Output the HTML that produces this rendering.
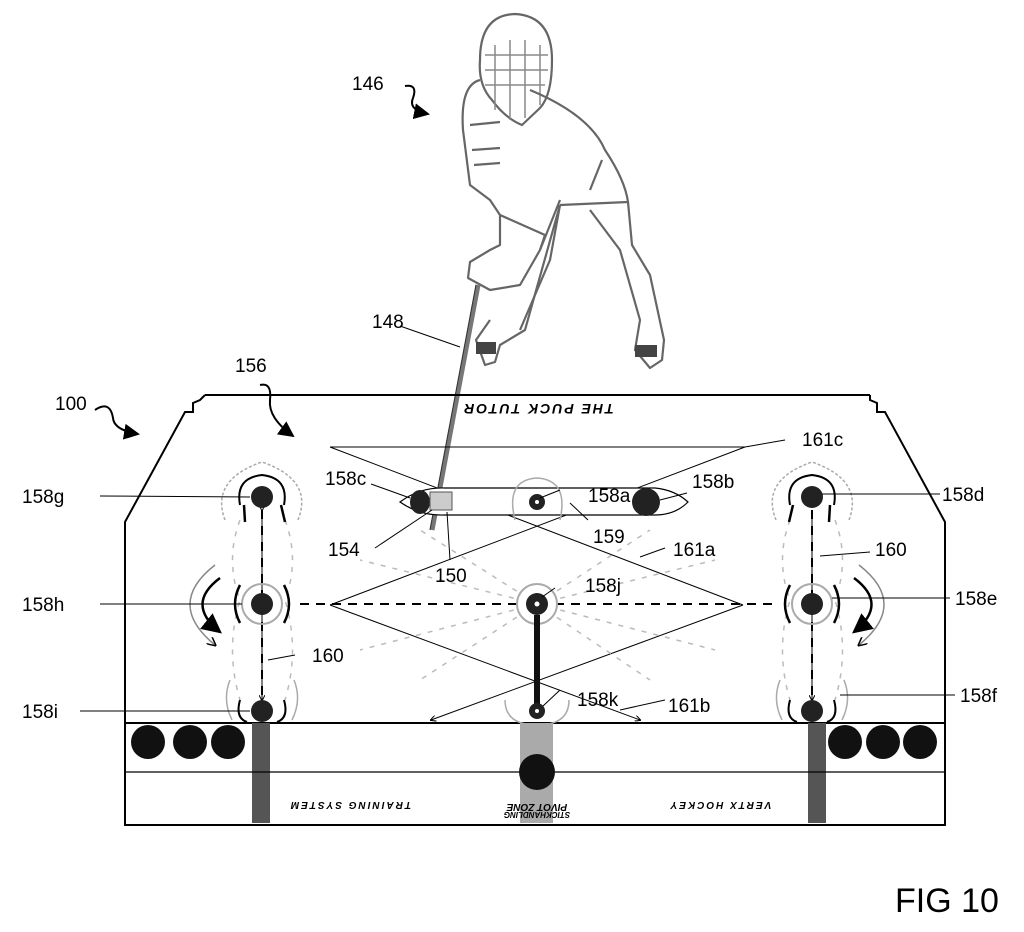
<!DOCTYPE html>
<html><head><meta charset="utf-8"><style>
html,body{margin:0;padding:0;background:#fff}
svg{display:block}
text{font-family:"Liberation Sans",sans-serif;fill:#000}
</style></head><body>
<svg width="1024" height="932" viewBox="0 0 1024 932" xmlns="http://www.w3.org/2000/svg">
<defs>
<marker id="ah" markerWidth="8" markerHeight="8" refX="7" refY="4" orient="auto"><path d="M0,0 L8,4 L0,8 z" fill="#000"/></marker>
<marker id="sa" markerWidth="6" markerHeight="6" refX="5" refY="3" orient="auto"><path d="M0,0 L6,3 L0,6" fill="none" stroke="#000"/></marker>
</defs>
<!-- player -->
<g fill="none" stroke="#666" stroke-width="2.2" stroke-linejoin="round">
<path d="M480,60 Q480,15 515,14 Q552,16 552,60 Q552,95 540,108 L522,125 Q505,118 492,100 Q478,85 480,60 Z"/>
<path d="M485,55 L548,55 M485,70 L548,70 M485,85 L545,85 M495,45 L495,110 M510,40 L510,120 M525,40 L525,118 M540,45 L540,105" stroke="#888" stroke-width="1.5"/>
<path d="M480,80 Q460,85 463,130 L470,185 L490,200 L500,215"/>
<path d="M470,125 L500,122 M472,150 L500,148 M474,165 L500,163"/>
<path d="M530,90 Q590,115 605,150 Q625,180 628,202 L560,205"/>
<path d="M500,215 L545,235 L540,250 L520,285 L490,290 L468,278 L470,262 L490,250 L500,245 Z"/>
<path d="M540,250 L560,200 M560,205 L525,330 L500,345 L495,362 L485,365 L476,340 L490,320"/>
<path d="M560,205 L550,260 L520,330"/>
<path d="M628,202 L632,245 L650,275 L664,340 L662,360 L650,368 L635,350 L640,320 L620,250 L590,210"/>
<path d="M602,160 L590,190" />
</g>
<rect x="476" y="342" width="20" height="12" fill="#444"/>
<rect x="635" y="345" width="22" height="12" fill="#444"/>
<!-- stick -->
<path d="M478,285 L432,530" stroke="#777" stroke-width="5" fill="none"/>
<path d="M476,285 L430,530" stroke="#333" stroke-width="1" fill="none"/>
<!-- board outline -->
<g fill="none" stroke="#000" stroke-width="2">
<path d="M205,395 L870,395"/>
<path d="M205,395 L200,400 L193,403 L193,412 L185,412 L125,522 L125,825 L945,825 L945,522 L885,412 L877,412 L877,403 L870,400 L870,395"/>
<path d="M125,723 L945,723"/>
</g>
<text x="538" y="414" font-size="14" font-style="italic" font-weight="bold" text-anchor="middle" transform="rotate(180 538 409)" fill="#555" letter-spacing="2">THE PUCK TUTOR</text>
<!-- bottom strip -->
<g fill="#111">
<circle cx="148" cy="742" r="17"/><circle cx="190" cy="742" r="17"/><circle cx="228" cy="742" r="17"/>
<circle cx="845" cy="742" r="17"/><circle cx="883" cy="742" r="17"/><circle cx="920" cy="742" r="17"/>
</g>
<rect x="252" y="723" width="18" height="100" fill="#555"/>
<rect x="808" y="723" width="18" height="100" fill="#555"/>
<rect x="520" y="723" width="33" height="100" fill="#aaa"/>
<line x1="125" y1="772" x2="945" y2="772" stroke="#000" stroke-width="1.2"/>
<circle cx="537" cy="772" r="18" fill="#111"/>
<g font-size="10" font-style="italic" font-weight="bold" fill="#444">
<text x="350" y="810" text-anchor="middle" transform="rotate(180 350 806)" letter-spacing="2">TRAINING SYSTEM</text>
<text x="537" y="808" text-anchor="middle" transform="rotate(180 537 806)">PIVOT ZONE</text>
<text x="537" y="818" text-anchor="middle" font-size="8" transform="rotate(180 537 815)">STICKHANDLING</text>
<text x="720" y="810" text-anchor="middle" transform="rotate(180 720 806)" letter-spacing="2">VERTX HOCKEY</text>
</g>
<!-- diamond lines -->
<g stroke="#000" stroke-width="1" fill="none">
<line x1="330" y1="447" x2="745" y2="447"/>
<line x1="330" y1="447" x2="743" y2="605"/>
<line x1="745" y1="447" x2="330" y2="605"/>
<line x1="330" y1="605" x2="640" y2="720" marker-end="url(#sa)"/>
<line x1="743" y1="605" x2="431" y2="720" marker-end="url(#sa)"/>
</g>
<g stroke="#000" stroke-width="2" stroke-dasharray="9,7">
<line x1="300" y1="604" x2="520" y2="604"/>
<line x1="555" y1="604" x2="775" y2="604"/>
<line x1="262" y1="510" x2="262" y2="700"/>
<line x1="812" y1="510" x2="812" y2="700"/>
</g>
<line x1="262" y1="510" x2="262" y2="700" stroke="#000" stroke-width="1" marker-end="url(#sa)" marker-start="url(#sa)"/>
<line x1="812" y1="510" x2="812" y2="700" stroke="#000" stroke-width="1" marker-end="url(#sa)"/>
<!-- grey dashed radiating -->
<g stroke="#bbb" stroke-width="1.5" stroke-dasharray="5,7" fill="none">
<path d="M537,604 L420,530 M537,604 L650,530 M537,604 L420,680 M537,604 L650,680 M537,604 L360,560 M537,604 L715,560 M537,604 L360,650 M537,604 L715,650"/>
<path d="M240,520 Q225,560 240,600 Q225,650 240,700 M285,520 Q300,560 285,600 Q300,650 285,700"/>
<path d="M790,520 Q775,560 790,600 Q775,650 790,700 M835,520 Q850,560 835,600 Q850,650 835,700"/>
</g>
<!-- bar 159 -->
<path d="M400,502 Q420,487 445,488 L655,488 Q675,490 688,502 Q675,515 655,515 L445,515 Q420,516 400,502 Z" fill="#fff" stroke="#000" stroke-width="1.2"/>
<ellipse cx="420" cy="502" rx="10" ry="12" fill="#222"/>
<rect x="430" y="492" width="22" height="18" fill="#ccc" stroke="#555"/>
<circle cx="646" cy="502" r="14" fill="#222"/>
<circle cx="537" cy="502" r="8" fill="#222"/><circle cx="537" cy="502" r="2" fill="#fff"/>
<path d="M515,520 Q505,480 537,478 Q569,480 560,520" fill="none" stroke="#aaa" stroke-width="1.5"/>
<!-- columns -->
<g id="col">
<circle cx="262" cy="497" r="11" fill="#222"/>
<path d="M240,505 Q235,478 262,475 Q289,478 284,505" fill="none" stroke="#000" stroke-width="2"/>
<path d="M244,505 L245,522 M281,505 L285,522" stroke="#000" stroke-width="2.5"/>
<path d="M225,520 Q210,480 262,462 Q314,480 298,520" fill="none" stroke="#aaa" stroke-width="1.5" stroke-dasharray="3,2"/>
<circle cx="262" cy="604" r="20" fill="none" stroke="#aaa" stroke-width="2"/>
<circle cx="262" cy="604" r="11" fill="#222"/>
<path d="M240,585 Q230,604 240,623 M284,585 Q294,604 284,623" fill="none" stroke="#000" stroke-width="2.5"/>
<path d="M220,578 Q185,604 220,632" fill="none" stroke="#000" stroke-width="2.5" marker-end="url(#ah)"/>
<path d="M215,565 Q165,604 215,645" fill="none" stroke="#888" stroke-width="1.5" marker-end="url(#sa)"/>
<circle cx="262" cy="711" r="11" fill="#222"/>
<path d="M240,700 Q235,718 247,722 M284,700 Q289,718 277,722" fill="none" stroke="#000" stroke-width="2"/>
<path d="M230,680 Q222,700 232,720 M294,680 Q302,700 292,720" fill="none" stroke="#aaa" stroke-width="1.5"/>
</g>
<use href="#col" transform="translate(1074 0) scale(-1 1)"/>
<!-- center -->
<circle cx="537" cy="604" r="20" fill="#fff" stroke="#aaa" stroke-width="2"/>
<circle cx="537" cy="604" r="11" fill="#222"/><circle cx="537" cy="604" r="2.5" fill="#fff"/>
<line x1="537" y1="615" x2="537" y2="705" stroke="#111" stroke-width="6"/>
<circle cx="537" cy="711" r="8" fill="#222"/><circle cx="537" cy="711" r="2" fill="#fff"/>
<path d="M505,700 Q505,725 537,725 Q569,725 569,700" fill="none" stroke="#aaa" stroke-width="1.5"/>
<!-- squiggle arrows -->
<g fill="none" stroke="#000" stroke-width="2">
<path d="M405,86 Q418,84 413,98 Q408,110 428,114" marker-end="url(#ah)"/>
<path d="M95,410 Q110,400 113,418 Q114,430 138,434" marker-end="url(#ah)"/>
<path d="M260,385 Q272,382 270,400 Q268,418 293,436" marker-end="url(#ah)"/>
</g>
<!-- leader lines -->
<g stroke="#000" stroke-width="1">
<line x1="100" y1="496" x2="250" y2="497"/>
<line x1="100" y1="604" x2="242" y2="604"/>
<line x1="80" y1="711" x2="250" y2="711"/>
<line x1="822" y1="494" x2="940" y2="494"/>
<line x1="832" y1="598" x2="950" y2="598"/>
<line x1="840" y1="695" x2="955" y2="695"/>
<line x1="400" y1="326" x2="460" y2="347"/>
<line x1="371" y1="484" x2="410" y2="498"/>
<line x1="375" y1="548" x2="432" y2="510"/>
<line x1="450" y1="560" x2="447" y2="512"/>
<line x1="588" y1="520" x2="570" y2="503"/>
<line x1="687" y1="493" x2="660" y2="500"/>
<line x1="560" y1="490" x2="540" y2="498"/>
<line x1="785" y1="440" x2="745" y2="447"/>
<line x1="665" y1="548" x2="640" y2="557"/>
<line x1="555" y1="588" x2="542" y2="597"/>
<line x1="560" y1="690" x2="543" y2="706"/>
<line x1="665" y1="700" x2="620" y2="710"/>
<line x1="295" y1="655" x2="268" y2="660"/>
<line x1="870" y1="552" x2="820" y2="556"/>
</g>
<g font-size="19">
<text x="352" y="90">146</text>
<text x="372" y="328">148</text>
<text x="55" y="410">100</text>
<text x="235" y="372">156</text>
<text x="325" y="485">158c</text>
<text x="328" y="556">154</text>
<text x="435" y="582">150</text>
<text x="588" y="502">158a</text>
<text x="692" y="488">158b</text>
<text x="593" y="543">159</text>
<text x="802" y="446">161c</text>
<text x="673" y="556">161a</text>
<text x="585" y="592">158j</text>
<text x="577" y="706">158k</text>
<text x="668" y="712">161b</text>
<text x="312" y="662">160</text>
<text x="875" y="556">160</text>
<text x="22" y="503">158g</text>
<text x="22" y="611">158h</text>
<text x="22" y="718">158i</text>
<text x="942" y="501">158d</text>
<text x="955" y="605">158e</text>
<text x="960" y="702">158f</text>
</g>
<text x="895" y="912" font-size="34">FIG 10</text>
</svg>
</body></html>
